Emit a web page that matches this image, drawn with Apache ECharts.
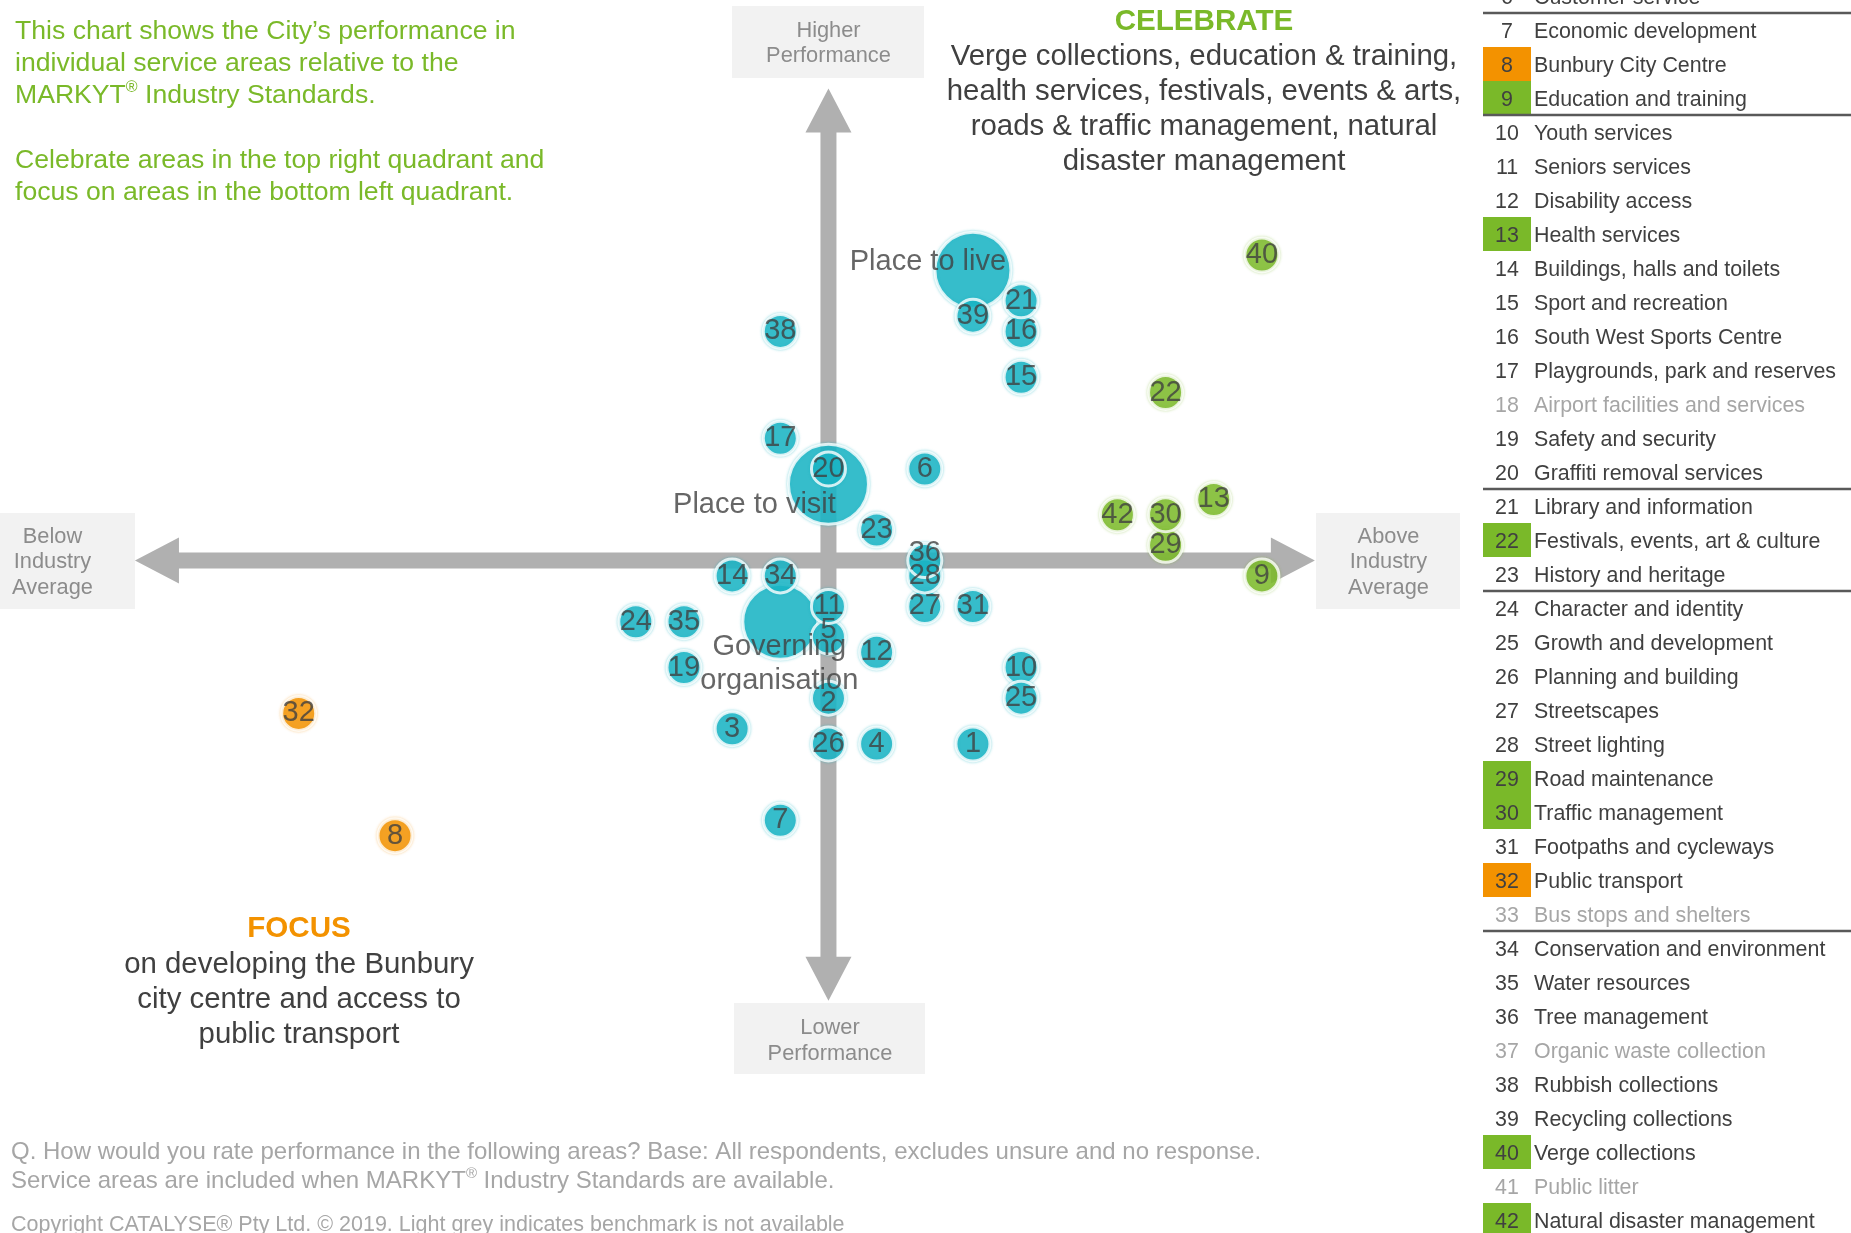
<!DOCTYPE html>
<html>
<head>
<meta charset="utf-8">
<script src="https://cdn.jsdelivr.net/npm/echarts@6/dist/echarts.min.js"></script>
<style>
html,body{margin:0;padding:0;background:#fff;}
#chart{width:1851px;height:1233px;}
</style>
</head>
<body>
<div id="chart"></div>
<script>
// ---------- DATA ----------
const IDS   = [1, 2, 3, 4, 5, 6, 7, 8, 9, 10, 11, 12, 13, 14, 15, 16, 17, 19, 20, 21, 22, 23, 24, 25, 26, 27, 28, 29, 30, 31, 32, 34, 35, 36, 38, 39, 40, 42];
const XVAL  = [3, 0, -2, 1, 0, 2, -1, -9, 9, 4, 0, 1, 8, -2, 4, 4, -1, -3, 0, 4, 7, 1, -4, 4, 0, 2, 2, 7, 7, 3, -11, -1, -3, 2, -1, 3, 9, 6];
const YVAL  = [-12, -9, -11, -12, -5, 6, -17, -18, -1, -7, -3, -6, 4, -1, 12, 15, 8, -7, 6, 17, 11, 2, -4, -9, -12, -3, -1, 1, 3, -3, -10, -1, -4, 0, 15, 16, 20, 3];
const FOCUS_IDS     = [8, 32];
const CELEBRATE_IDS = [9, 13, 22, 29, 30, 40, 42];
const NO_BENCH_IDS  = [18, 33, 37, 41];

const BIG_NAMES = ['Place to live', 'Place to visit', 'Governing\norganisation'];
const BIG_X     = [3, 0, -1];
const BIG_Y     = [19, 5, -4];
const BIG_SIZE  = [76, 80, 75];

const ARROW_H = [-14.4, 10.1];   // horizontal arrow extent (x values, at y = 0)
const ARROW_V = [-28.8, 30.9];   // vertical arrow extent (y values, at x = 0)

const LEGEND_IDS = [6,7,8,9,10,11,12,13,14,15,16,17,18,19,20,21,22,23,24,25,26,27,28,29,30,31,32,33,34,35,36,37,38,39,40,41,42];
const LEGEND_NAMES = ['Customer service','Economic development','Bunbury City Centre','Education and training','Youth services','Seniors services','Disability access','Health services','Buildings, halls and toilets','Sport and recreation','South West Sports Centre','Playgrounds, park and reserves','Airport facilities and services','Safety and security','Graffiti removal services','Library and information','Festivals, events, art & culture','History and heritage','Character and identity','Growth and development','Planning and building','Streetscapes','Street lighting','Road maintenance','Traffic management','Footpaths and cycleways','Public transport','Bus stops and shelters','Conservation and environment','Water resources','Tree management','Organic waste collection','Rubbish collections','Recycling collections','Verge collections','Public litter','Natural disaster management'];
const LEGEND_BREAK_AFTER = [6, 9, 20, 23, 33];

// ---------- STYLE ----------
const FONT = "'Liberation Sans', Arial, sans-serif";
const TEAL = '#1ab4c4', GREEN = '#7ab929', ORANGE = '#f39200';
const DARK = '#404040', LIGHT = '#a6a6a6', BOXTXT = '#8c8c8c', BOXBG = '#f2f2f2';

function colorOf(id) {
  if (FOCUS_IDS.includes(id)) return ORANGE;
  if (CELEBRATE_IDS.includes(id)) return GREEN;
  return TEAL;
}
const LABEL_SHIFT = {36: [0, -8], 5: [0, -7], 2: [0, 5]};

const smallData = IDS.map((id, i) => {
  const c = colorOf(id);
  const d = {
    value: [XVAL[i], YVAL[i]], name: String(id),
    itemStyle: {color: c, shadowColor: c === TEAL ? 'rgba(26,179,195,0.5)' : (c === GREEN ? 'rgba(122,185,41,0.4)' : 'rgba(243,146,0,0.4)')}
  };
  if (LABEL_SHIFT[id]) d.label = {offset: LABEL_SHIFT[id]};
  return d;
});
const BIG_LABEL_OFFSET = [[-45, -8], [-74, 21], [-1, 42]];
const bigData = BIG_NAMES.map((n, i) => ({value: [BIG_X[i], BIG_Y[i]], name: n, symbolSize: BIG_SIZE[i]}));
const bigLabelData = BIG_NAMES.map((n, i) => ({value: [BIG_X[i], BIG_Y[i]], name: n, label: {offset: BIG_LABEL_OFFSET[i]}}));

function renderArrow(params, api) {
  const a = api.coord([api.value(0), api.value(1)]);
  const b = api.coord([api.value(2), api.value(3)]);
  const dx = b[0] - a[0], dy = b[1] - a[1], len = Math.hypot(dx, dy);
  const ux = dx / len, uy = dy / len, nx = -uy, ny = ux;
  const L = 44, W = 23, w = 8;
  const P = (p, s, t) => [p[0] + ux * s + nx * t, p[1] + uy * s + ny * t];
  return {
    type: 'polygon',
    shape: {points: [a, P(a, L, W), P(a, L, w), P(b, -L, w), P(b, -L, W), b, P(b, -L, -W), P(b, -L, -w), P(a, L, -w), P(a, L, -W)]},
    style: {fill: '#b0b0b0'}
  };
}

// ---------- GRAPHIC (text & legend) ----------
const g = [];
function txt(x, y, text, o) {
  g.push(Object.assign({type: 'text', x: x, y: y, z: 10,
    style: Object.assign({text: text, font: '26.6px ' + FONT, fill: DARK, textAlign: 'left', textVerticalAlign: 'middle'}, o || {})}));
}
function rect(x, y, w, h, fill) {
  g.push({type: 'rect', x: x, y: y, z: 0, shape: {x: 0, y: 0, width: w, height: h}, style: {fill: fill}});
}
function supText(x, y, parts, size, supSize, color, lh) {
  g.push({type: 'text', x: x, y: y, z: 10, style: {
    text: '{a|' + parts[0] + '}{s|®}{a|' + parts[1] + '}',
    textVerticalAlign: 'middle',
    rich: {
      a: {fontSize: size, fontFamily: FONT, fill: color, lineHeight: lh},
      s: {fontSize: supSize, fontFamily: FONT, fill: color, verticalAlign: 'top', lineHeight: lh}
    }
  }});
}
// top-left intro
const T0 = 31.9;
txt(15, T0, 'This chart shows the City’s performance in', {fill: GREEN});
txt(15, T0 + 31.9, 'individual service areas relative to the', {fill: GREEN});
supText(15, T0 + 63.8, ['MARKYT', ' Industry Standards.'], 26.6, 16, GREEN, 32);
txt(15, T0 + 128.7, 'Celebrate areas in the top right quadrant and', {fill: GREEN});
txt(15, T0 + 160.6, 'focus on areas in the bottom left quadrant.', {fill: GREEN});

// celebrate
txt(1204, 22, 'CELEBRATE', {fill: GREEN, font: 'bold 29.6px ' + FONT, textAlign: 'center'});
['Verge collections, education & training,', 'health services, festivals, events & arts,', 'roads & traffic management, natural', 'disaster management']
  .forEach((s, i) => txt(1204, 57 + i * 34.8, s, {font: '29.4px ' + FONT, textAlign: 'center'}));
// focus
txt(299, 928.5, 'FOCUS', {fill: ORANGE, font: 'bold 29.6px ' + FONT, textAlign: 'center'});
['on developing the Bunbury', 'city centre and access to', 'public transport']
  .forEach((s, i) => txt(299, 964.5 + i * 35, s, {font: '29.4px ' + FONT, textAlign: 'center'}));

// axis end boxes
const BF = '21.8px ' + FONT;
rect(732, 6, 192, 72, BOXBG);
txt(828.5, 31, 'Higher', {font: BF, fill: BOXTXT, textAlign: 'center'});
txt(828.5, 56, 'Performance', {font: BF, fill: BOXTXT, textAlign: 'center'});
rect(734, 1003, 191, 71, BOXBG);
txt(830, 1028, 'Lower', {font: BF, fill: BOXTXT, textAlign: 'center'});
txt(830, 1053.5, 'Performance', {font: BF, fill: BOXTXT, textAlign: 'center'});
rect(0, 513, 135, 96, BOXBG);
['Below', 'Industry', 'Average'].forEach((s, i) => txt(52.5, 537 + i * 25.3, s, {font: BF, fill: BOXTXT, textAlign: 'center'}));
rect(1316, 513, 144, 96, BOXBG);
['Above', 'Industry', 'Average'].forEach((s, i) => txt(1388.5, 537 + i * 25.3, s, {font: BF, fill: BOXTXT, textAlign: 'center'}));

// footnotes
txt(11, 1152, 'Q. How would you rate performance in the following areas? Base: All respondents, excludes unsure and no response.', {font: '24px ' + FONT, fill: LIGHT});
supText(11, 1181, ['Service areas are included when MARKYT', ' Industry Standards are available.'], 24, 15, LIGHT, 30);
txt(11, 1225, 'Copyright CATALYSE® Pty Ltd. © 2019. Light grey indicates benchmark is not available', {font: '21.5px ' + FONT, fill: LIGHT});

// legend
LEGEND_IDS.forEach((id, i) => {
  const cy = -4 + i * 34;
  const c = colorOf(id);
  if (c !== TEAL) rect(1483, cy - 17, 48, 34, c);
  const col = NO_BENCH_IDS.includes(id) ? LIGHT : DARK;
  txt(1507, cy + 2, String(id), {font: '21.4px ' + FONT, fill: col, textAlign: 'center'});
  txt(1534, cy + 2, LEGEND_NAMES[i], {font: '21.4px ' + FONT, fill: col});
  if (LEGEND_BREAK_AFTER.includes(id)) {
    g.push({type: 'line', z: 5, shape: {x1: 1483, y1: cy + 17, x2: 1851, y2: cy + 17}, style: {stroke: '#595959', lineWidth: 2.5}});
  }
});

// ---------- CHART ----------
const chart = echarts.init(document.getElementById('chart'), null, {renderer: 'canvas'});
chart.setOption({
  animation: false,
  backgroundColor: '#fff',
  grid: {left: 57.9, right: 348.3, top: 41.1, bottom: 214},
  xAxis: {type: 'value', min: -16, max: 14, show: false, splitLine: {show: false}},
  yAxis: {type: 'value', min: -30, max: 34, show: false, splitLine: {show: false}},
  graphic: g,
  series: [
    {
      type: 'custom', z: 1, clip: false, silent: true,
      renderItem: renderArrow,
      encode: {x: [0, 2], y: [1, 3]},
      data: [[ARROW_H[0], 0, ARROW_H[1], 0], [0, ARROW_V[0], 0, ARROW_V[1]]]
    },
    {
      type: 'scatter', z: 2, symbol: 'circle',
      itemStyle: {color: TEAL, borderColor: '#fff', borderWidth: 3, shadowBlur: 3, shadowColor: 'rgba(26,179,195,0.5)'},
      label: {show: false},
      data: bigData
    },
    {
      type: 'scatter', z: 3, symbol: 'circle', symbolSize: 34,
      itemStyle: {borderColor: '#fff', borderWidth: 3, shadowBlur: 3},
      label: {show: true, position: 'inside', formatter: '{b}', color: DARK, fontSize: 29, fontFamily: FONT},
      data: smallData
    },
    {
      type: 'scatter', z: 4, symbolSize: 0, silent: true,
      label: {show: true, position: 'inside', formatter: '{b}', color: DARK, fontSize: 29, fontFamily: FONT, lineHeight: 34, align: 'center'},
      data: bigLabelData
    }
  ]
});
</script>
</body>
</html>
